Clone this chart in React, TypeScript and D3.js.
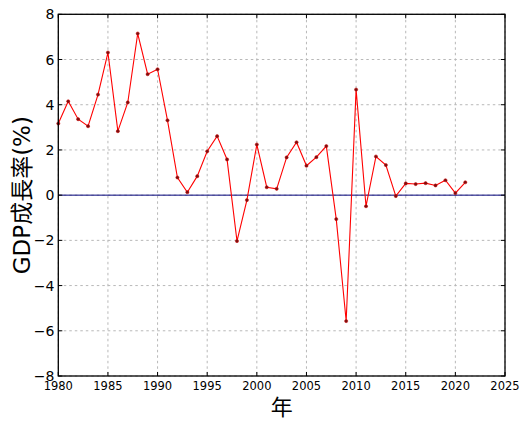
import React from "react";
import * as d3 from "d3";

const years: number[] = [
  1980, 1981, 1982, 1983, 1984, 1985, 1986, 1987, 1988, 1989,
  1990, 1991, 1992, 1993, 1994, 1995, 1996, 1997, 1998, 1999,
  2000, 2001, 2002, 2003, 2004, 2005, 2006, 2007, 2008, 2009,
  2010, 2011, 2012, 2013, 2014, 2015, 2016, 2017, 2018, 2019,
  2020, 2021,
];
const growth: number[] = [
  3.17, 4.15, 3.36, 3.05, 4.45, 6.31, 2.83, 4.10, 7.15, 5.35,
  5.57, 3.31, 0.78, 0.13, 0.84, 1.94, 2.61, 1.58, -2.03, -0.22,
  2.24, 0.35, 0.28, 1.67, 2.34, 1.30, 1.68, 2.17, -1.06, -5.57,
  4.67, -0.49, 1.71, 1.33, -0.04, 0.52, 0.49, 0.53, 0.43, 0.66,
  0.09, 0.57,
];
const xTicks: number[] = [1980, 1985, 1990, 1995, 2000, 2005, 2010, 2015, 2020, 2025];
const yTicks: number[] = [-8, -6, -4, -2, 0, 2, 4, 6, 8];
const xLabel = "年";
const yLabel = "GDP成長率(%)";

const W = 526;
const H = 425;
const L = 58.3;
const R = 505;
const T = 14.3;
const B = 376;

export default function App() {
  const x = d3.scaleLinear().domain([1980, 2025]).range([L, R]);
  const y = d3.scaleLinear().domain([-8, 8]).range([B, T]);
  const pts = years.map((yr, i) => [yr, growth[i]] as [number, number]);
  const line = d3
    .line<[number, number]>()
    .x((d) => x(d[0]))
    .y((d) => y(d[1]));
  const fontLatin = "'DejaVu Sans', 'Noto Sans CJK JP', sans-serif";
  const tick = 4;
  return (
    <svg
      width={W}
      height={H}
      style={{ position: "absolute", left: 0, top: 0, background: "#fff" }}
    >
      <rect x={0} y={0} width={W} height={H} fill="#fff" />
      {/* grid */}
      {xTicks.map((t) => (
        <line
          key={"gx" + t}
          x1={x(t)}
          x2={x(t)}
          y1={T}
          y2={B}
          stroke="#b8b8b8"
          strokeWidth={1}
          strokeDasharray="2.5,3"
        />
      ))}
      {yTicks.map((t) => (
        <line
          key={"gy" + t}
          x1={L}
          x2={R}
          y1={y(t)}
          y2={y(t)}
          stroke="#b8b8b8"
          strokeWidth={1}
          strokeDasharray="2.5,3"
        />
      ))}
      {/* zero line */}
      <line x1={L} x2={R} y1={y(0)} y2={y(0)} stroke="#00007a" strokeWidth={1} />
      {/* data */}
      <path d={line(pts) || ""} fill="none" stroke="#ff0000" strokeWidth={1.1} />
      {pts.map((p, i) => (
        <circle key={"m" + i} cx={x(p[0])} cy={y(p[1])} r={1.6} fill="#7a1010" stroke="#cc0000" strokeWidth={0.5} />
      ))}
      {/* ticks inward on all sides */}
      {xTicks.map((t) => (
        <g key={"tx" + t}>
          <line x1={x(t)} x2={x(t)} y1={B} y2={B - tick} stroke="#000" strokeWidth={1} />
          <line x1={x(t)} x2={x(t)} y1={T} y2={T + tick} stroke="#000" strokeWidth={1} />
          <text
            x={x(t)}
            y={390}
            textAnchor="middle"
            fontSize={11.5}
            fontFamily={fontLatin}
            fill="#000"
          >
            {t}
          </text>
        </g>
      ))}
      {yTicks.map((t) => (
        <g key={"ty" + t}>
          <line x1={L} x2={L + tick} y1={y(t)} y2={y(t)} stroke="#000" strokeWidth={1} />
          <line x1={R} x2={R - tick} y1={y(t)} y2={y(t)} stroke="#000" strokeWidth={1} />
          <text
            x={L - 4}
            y={y(t)}
            dy="0.36em"
            textAnchor="end"
            fontSize={14}
            fontFamily={fontLatin}
            fill="#000"
          >
            {t < 0 ? "\u2212" + Math.abs(t) : String(t)}
          </text>
        </g>
      ))}
      {/* frame */}
      <rect x={L} y={T} width={R - L} height={B - T} fill="none" stroke="#000" strokeWidth={1.3} />
      {/* axis labels */}
      <text
        x={(L + R) / 2}
        y={415}
        textAnchor="middle"
        fontSize={22}
        fontFamily={fontLatin}
        fill="#000"
      >
        {xLabel}
      </text>
      <text
        transform={`translate(30, ${(T + B) / 2}) rotate(-90)`}
        textAnchor="middle"
        fontSize={23}
        fontFamily={fontLatin}
        fill="#000"
      >
        {yLabel}
      </text>
    </svg>
  );
}
